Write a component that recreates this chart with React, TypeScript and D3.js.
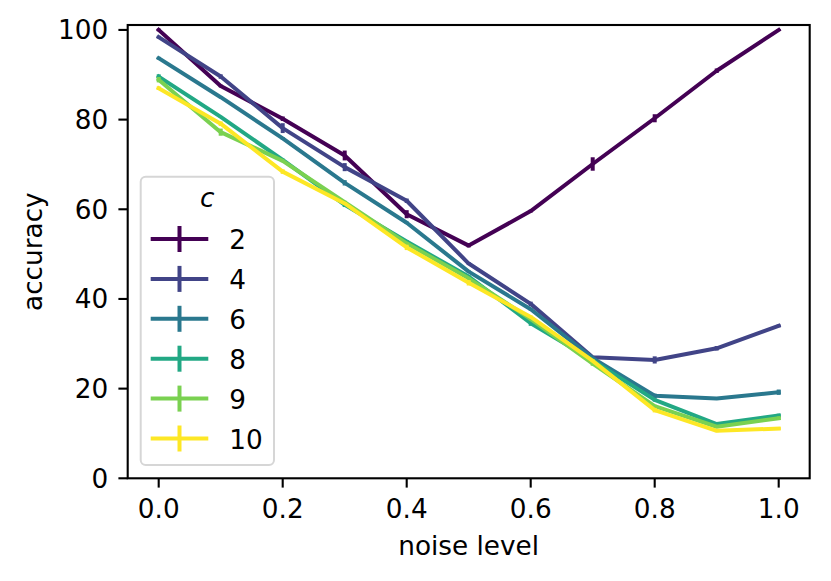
import * as d3 from 'd3';

// noise level on x, accuracy (%) per number of classes c
const noiseLevels = [0.0, 0.1, 0.2, 0.3, 0.4, 0.5, 0.6, 0.7, 0.8, 0.9, 1.0];
const classCounts = ['2', '4', '6', '8', '9', '10'];

const acc2 = [100.0, 87.5, 80.2, 72.0, 58.9, 51.9, 59.6, 70.1, 80.3, 90.9, 100.0];
const acc4 = [98.4, 89.6, 78.1, 69.4, 61.9, 47.9, 38.9, 27.0, 26.4, 29.0, 34.0];
const acc6 = [93.7, 85.0, 75.8, 65.9, 57.0, 46.1, 37.7, 26.8, 18.4, 17.8, 19.2];
const acc8 = [89.6, 80.6, 71.0, 61.0, 52.8, 45.0, 34.6, 26.3, 17.5, 12.1, 14.0];
const acc9 = [88.9, 77.2, 70.8, 61.6, 52.4, 44.6, 35.5, 25.6, 16.1, 11.5, 13.4];
const acc10 = [87.0, 79.1, 68.4, 61.3, 51.5, 43.6, 36.0, 26.2, 15.2, 10.6, 11.1];

const err2 = [0.3, 0.3, 0.5, 1.1, 0.9, 0.4, 0.3, 1.5, 0.9, 0.5, 0.2];
const err4 = [0.3, 0.5, 1.1, 0.9, 0.5, 0.3, 0.5, 0.3, 0.8, 0.5, 0.3];
const err6 = [0.3, 0.2, 0.3, 0.6, 0.3, 0.3, 0.3, 0.3, 0.5, 0.2, 0.6];
const err8 = [0.5, 0.2, 0.3, 0.5, 0.3, 0.3, 0.6, 0.3, 0.4, 0.3, 0.4];
const err9 = [0.6, 0.8, 0.3, 0.3, 0.3, 0.3, 0.3, 0.5, 0.3, 0.3, 0.4];
const err10 = [0.4, 0.5, 0.5, 0.3, 0.6, 0.6, 0.3, 0.3, 0.5, 0.3, 0.3];

const seriesValues = [acc2, acc4, acc6, acc8, acc9, acc10];
const seriesErrors = [err2, err4, err6, err8, err9, err10];
const colors = ['#440154', '#414487', '#2a788e', '#22a884', '#7ad151', '#fde725'];

const xTicks = [0.0, 0.2, 0.4, 0.6, 0.8, 1.0];
const yTicks = [0, 20, 40, 60, 80, 100];

const W = 831;
const H = 581;
const plot = { left: 127.7, right: 809.7, top: 25, bottom: 478.3 };
const font = 'DejaVu Sans, sans-serif';
const fs = 26.3;
const tickLen = 9.3;

export default function App() {
  const x = d3.scaleLinear().domain([-0.05, 1.05]).range([plot.left, plot.right]);
  const y = d3.scaleLinear().domain([0, 101.1]).range([plot.bottom, plot.top]);

  const line = d3
    .line<number>()
    .x((_, i) => x(noiseLevels[i]))
    .y((d) => y(d));

  const legendRowY = (i: number) => 239 + i * 39.9;

  return (
    <div>
      <style>{`body{margin:0}`}</style>
      <svg width={W} height={H} style={{ display: 'block', background: 'white' }} fontFamily={font}>
        {/* series */}
        {seriesValues.map((vals, s) => (
          <g key={classCounts[s]}>
            <path d={line(vals) ?? ''} fill="none" stroke={colors[s]} strokeWidth={4} strokeLinejoin="round" strokeLinecap="square" />
            {vals.map((v, i) => (
              <line
                key={i}
                x1={x(noiseLevels[i])}
                x2={x(noiseLevels[i])}
                y1={y(v - seriesErrors[s][i])}
                y2={y(v + seriesErrors[s][i])}
                stroke={colors[s]}
                strokeWidth={4}
              />
            ))}
          </g>
        ))}

        {/* spines */}
        <rect
          x={plot.left}
          y={plot.top}
          width={plot.right - plot.left}
          height={plot.bottom - plot.top}
          fill="none"
          stroke="black"
          strokeWidth={2.1}
        />

        {/* x axis */}
        {xTicks.map((t) => (
          <g key={t} transform={`translate(${x(t)},${plot.bottom})`}>
            <line y1={0} y2={tickLen} stroke="black" strokeWidth={2.1} />
            <text y={40.2} textAnchor="middle" fontSize={fs} fill="black">
              {d3.format('.1f')(t)}
            </text>
          </g>
        ))}

        {/* y axis */}
        {yTicks.map((t) => (
          <g key={t} transform={`translate(${plot.left},${y(t)})`}>
            <line x1={0} x2={-tickLen} stroke="black" strokeWidth={2.1} />
            <text x={-19.5} y={9.5} textAnchor="end" fontSize={fs} fill="black">
              {t}
            </text>
          </g>
        ))}

        <text x={(plot.left + plot.right) / 2} y={555} textAnchor="middle" fontSize={fs} fill="black">
          noise level
        </text>
        <text
          transform={`translate(41.9,${(plot.top + plot.bottom) / 2}) rotate(-90)`}
          textAnchor="middle"
          fontSize={fs}
          fill="black"
        >
          accuracy
        </text>

        {/* legend */}
        <g>
          <rect
            x={140.7}
            y={176.7}
            width={133.3}
            height={288.3}
            rx={5}
            fill="white"
            fillOpacity={0.8}
            stroke="#d6d6d6"
            strokeWidth={2}
          />
          <text x={207.3} y={207.3} textAnchor="middle" fontSize={fs} fontStyle="italic" fill="black">
            c
          </text>
          {classCounts.map((c, i) => (
            <g key={c} transform={`translate(0,${legendRowY(i)})`}>
              <line x1={150.7} x2={208.3} y1={0} y2={0} stroke={colors[i]} strokeWidth={4} />
              <line x1={179.5} x2={179.5} y1={-13} y2={13} stroke={colors[i]} strokeWidth={4} />
              <text x={229.3} y={10} fontSize={fs} fill="black">
                {c}
              </text>
            </g>
          ))}
        </g>
      </svg>
    </div>
  );
}
